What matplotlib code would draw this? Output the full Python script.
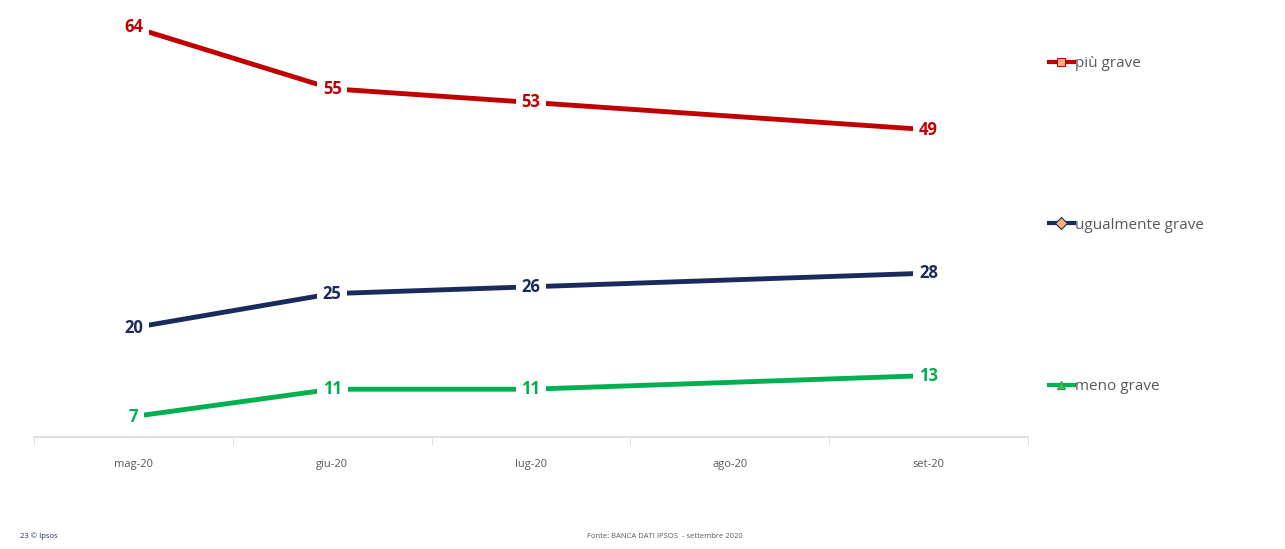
import matplotlib.pyplot as plt
from matplotlib.lines import Line2D
import numpy as np

plt.rcParams['font.family'] = ['Open Sans', 'DejaVu Sans']

months = ["mag-20", "giu-20", "lug-20", "ago-20", "set-20"]
piu_grave = [64, 55, 53, np.nan, 49]
ugualmente_grave = [20, 25, 26, np.nan, 28]
meno_grave = [7, 11, 11, np.nan, 13]

series = [
    ("più grave", piu_grave, "#C00000", "s"),
    ("ugualmente grave", ugualmente_grave, "#1B2A5C", "D"),
    ("meno grave", meno_grave, "#00B050", "^"),
]

fig = plt.figure(figsize=(12.85, 5.49), dpi=100)
ax = fig.add_axes([34 / 1285, 1 - 437 / 549, (1028 - 34) / 1285, 437 / 549])

x = np.arange(len(months))
handles = []
for name, vals, col, mk in series:
    v = np.array(vals, dtype=float)
    ok = ~np.isnan(v)
    ax.plot(x[ok], v[ok], color=col, lw=3.5, solid_capstyle="round", zorder=2)
    for xi, yi in zip(x[ok], v[ok]):
        ax.text(xi, yi, f"{yi:.0f}", color=col, fontsize=12, fontweight="bold",
                ha="center", va="center", zorder=3,
                bbox=dict(boxstyle="square,pad=0.35", fc="white", ec="none"))
    mfc = "#70AD47" if mk == "^" else "#F4B183"
    handles.append(Line2D([], [], color=col, lw=3, marker=mk, markersize=6,
                          markerfacecolor=mfc, markeredgecolor=col,
                          markeredgewidth=0.8, label=name))

ax.set_xlim(-0.5, 4.5)
ax.set_ylim(4, 68)
ax.set_xticks(x)
ax.set_xticklabels(months, fontsize=8, color="#595959")
ax.set_xticks(np.arange(-0.5, 5, 1), minor=True)
ax.tick_params(axis="x", which="major", length=0, pad=16)
ax.tick_params(axis="x", which="minor", length=6, color="#D9D9D9")
ax.set_yticks([])
for s in ["top", "right", "left"]:
    ax.spines[s].set_visible(False)
ax.spines["bottom"].set_color("#D9D9D9")
ax.spines["bottom"].set_linewidth(1.2)

fig.legend(handles=handles, loc="upper left", bbox_to_anchor=(1043 / 1285, 1 - 50 / 549),
           frameon=False, fontsize=11, labelcolor="#595959", handlelength=1.6,
           handletextpad=0.1, labelspacing=9.6, borderaxespad=0)

fig.text(20 / 1285, 1 - 536 / 549, "23 © Ipsos", fontsize=5.5, color="#1B2A5C",
         va="center", ha="left")
fig.text(665 / 1285, 1 - 536 / 549, "Fonte: BANCA DATI IPSOS  - settembre 2020",
         fontsize=5.5, color="#595959", va="center", ha="center")

fig.savefig("out.png", dpi=100)
